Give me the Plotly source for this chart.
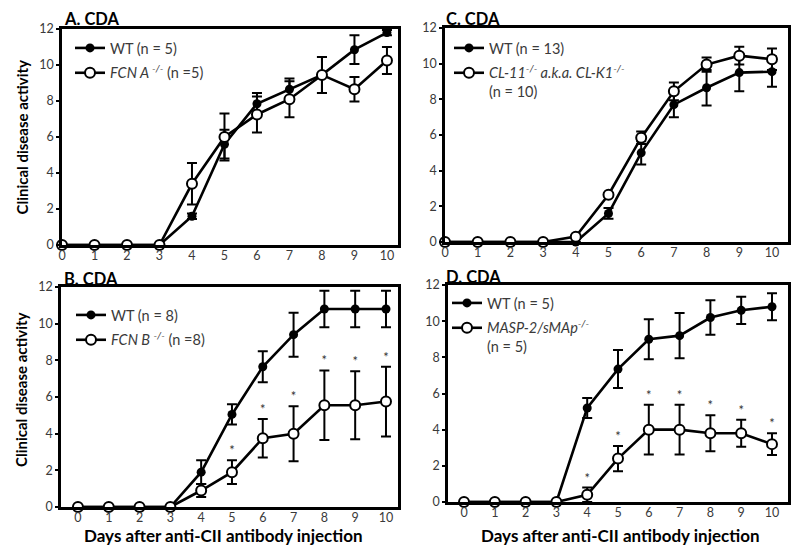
import plotly.graph_objects as go

days = list(range(11))

# Panel A: FCN A
a_wt = [0, 0, 0, 0, 1.6, 5.6, 7.85, 8.65, 9.45, 10.85, 11.8]
a_wt_err = [0, 0, 0, 0, 0.15, 0.8, 0.6, 0.6, 1.0, 0.8, 0.15]
a_ko = [0, 0, 0, 0, 3.4, 6.0, 7.25, 8.1, 9.45, 8.65, 10.25]
a_ko_err = [0, 0, 0, 0, 1.15, 1.3, 1.0, 1.0, 1.0, 0.68, 0.75]

# Panel B: FCN B
b_wt = [0, 0, 0, 0, 1.9, 5.05, 7.65, 9.4, 10.8, 10.8, 10.8]
b_wt_err = [0, 0, 0, 0, 0.65, 0.55, 0.85, 1.2, 1.0, 1.0, 1.0]
b_ko = [0, 0, 0, 0, 0.9, 1.9, 3.75, 4.0, 5.55, 5.55, 5.75]
b_ko_err = [0, 0, 0, 0, 0.35, 0.65, 1.05, 1.5, 1.9, 1.85, 1.9]
b_sig = [False, False, False, False, False, True, True, True, True, True, True]

# Panel C: CL-11
c_wt = [0, 0, 0, 0, 0, 1.6, 5.0, 7.7, 8.65, 9.5, 9.55]
c_wt_err = [0, 0, 0, 0, 0, 0.3, 0.65, 0.7, 1.0, 1.05, 0.85]
c_ko = [0, 0, 0, 0, 0.3, 2.65, 5.85, 8.45, 9.95, 10.45, 10.25]
c_ko_err = [0, 0, 0, 0, 0.05, 0.1, 0.35, 0.5, 0.4, 0.5, 0.6]

# Panel D: MASP-2/sMAp
d_wt = [0, 0, 0, 0, 5.2, 7.35, 9.0, 9.2, 10.2, 10.6, 10.8]
d_wt_err = [0, 0, 0, 0, 0.55, 1.05, 1.1, 1.25, 0.95, 0.75, 0.75]
d_ko = [0, 0, 0, 0, 0.4, 2.4, 4.0, 4.0, 3.8, 3.8, 3.2]
d_ko_err = [0, 0, 0, 0, 0.4, 0.7, 1.38, 1.38, 1.0, 0.75, 0.6]
d_sig = [False, False, False, False, True, True, True, True, True, True, True]

y_ticks = [0, 2, 4, 6, 8, 10, 12]

FONT = "Lato"
TXT = "#3a3a3a"

panels = [
    ("A", "x", "y", "legend", a_wt, a_wt_err, a_ko, a_ko_err,
     "WT (n = 5)", "<i>FCN A <sup>-/-</sup></i> (n =5)", None),
    ("C", "x2", "y2", "legend2", c_wt, c_wt_err, c_ko, c_ko_err,
     "WT (n = 13)", "<i>CL-11<sup>-/-</sup> a.k.a. CL-K1<sup>-/-</sup></i><br>(n = 10)", None),
    ("B", "x3", "y3", "legend3", b_wt, b_wt_err, b_ko, b_ko_err,
     "WT (n = 8)", "<i>FCN B <sup>-/-</sup></i> (n =8)", b_sig),
    ("D", "x4", "y4", "legend4", d_wt, d_wt_err, d_ko, d_ko_err,
     "WT (n = 5)", "<i>MASP-2/sMAp<sup>-/-</sup></i><br>(n = 5)", d_sig),
]

fig = go.Figure()
err_style = dict(type="data", visible=True, color="black", thickness=2, width=5)

for key, xa, ya, lg, wt, wte, ko, koe, wn, kn, sig in panels:
    fig.add_trace(go.Scatter(
        x=days, y=wt, name=wn, xaxis=xa, yaxis=ya, legend=lg, legendgroup=key + "wt",
        mode="lines+markers", cliponaxis=False,
        line=dict(color="black", width=2.6),
        marker=dict(symbol="circle", size=9, color="black"),
        error_y=dict(array=wte, **err_style),
    ))
    fig.add_trace(go.Scatter(
        x=days, y=ko, name=kn, xaxis=xa, yaxis=ya, legend=lg, legendgroup=key + "ko",
        mode="lines+markers", cliponaxis=False,
        line=dict(color="black", width=2.6),
        marker=dict(symbol="circle", size=10, color="white",
                    line=dict(color="black", width=2)),
        error_y=dict(array=koe, **err_style),
    ))
    if sig is not None:
        sx = [d for d, s in zip(days, sig) if s]
        sy = [ko[d] + koe[d] + 0.45 for d, s in zip(days, sig) if s]
        fig.add_trace(go.Scatter(
            x=sx, y=sy, xaxis=xa, yaxis=ya, mode="text", text=["*"] * len(sx),
            textposition="middle center", showlegend=False, cliponaxis=False,
            textfont=dict(family=FONT, size=13, color="#333"),
        ))

# The page body has an 8px margin, so the figure is drawn 8px in from the
# window's top-left corner; positions below are given in window pixels.
OFF = 8
W, H = 800 - OFF, 551 - OFF

def px(x):
    return (x - OFF) / W

def py(y):
    return 1 - (y - OFF) / H

def dom_x(a, b):
    return [px(a), px(b)]

def dom_y(top, bottom):
    return [py(bottom), py(top)]

axis_common = dict(showline=True, linecolor="black", linewidth=2.6, mirror=True,
                   showgrid=False, zeroline=False, automargin=False,
                   tickfont=dict(family=FONT, size=12.5, color=TXT))
ycommon = dict(range=[0, 12], tickvals=y_ticks, ticks="outside", ticklen=3, tickwidth=2,
               tickcolor="black", **axis_common)
xcommon = dict(tickvals=days, ticks="", ticklabelstandoff=-3, **axis_common)

layout_axes = {
    "xaxis": dict(domain=dom_x(62, 398), range=[0, 10.34], anchor="y", **xcommon),
    "yaxis": dict(domain=dom_y(29, 245), anchor="x", **ycommon),
    "xaxis2": dict(domain=dom_x(445, 788), range=[0, 10.49], anchor="y2", **xcommon),
    "yaxis2": dict(domain=dom_y(28, 242), anchor="x2", **ycommon),
    "xaxis3": dict(domain=dom_x(61, 398), range=[-0.55, 10.39], anchor="y3", **xcommon),
    "yaxis3": dict(domain=dom_y(287, 507), anchor="x3", **ycommon),
    "xaxis4": dict(domain=dom_x(448, 788), range=[-0.52, 10.52], anchor="y4", **xcommon),
    "yaxis4": dict(domain=dom_y(285, 502), anchor="x4", **ycommon),
}

legend_common = dict(bgcolor="rgba(0,0,0,0)", borderwidth=0, xanchor="left", yanchor="top",
                     valign="top", font=dict(family=FONT, size=14.5, color=TXT),
                     itemclick=False, itemwidth=30, tracegroupgap=3)

fig.update_layout(
    width=W, height=H,
    margin=dict(l=0, r=0, t=0, b=0, pad=0, autoexpand=False),
    paper_bgcolor="white", plot_bgcolor="white",
    font=dict(family=FONT, color=TXT),
    legend=dict(x=px(70), y=py(32), **legend_common),
    legend2=dict(x=px(449), y=py(32), **legend_common),
    legend3=dict(x=px(71), y=py(299), **legend_common),
    legend4=dict(x=px(447), y=py(287), **legend_common),
    **layout_axes,
)

annots = [
    dict(text="<b>A. CDA</b>", x=px(62), y=py(18.5)),
    dict(text="<b>C. CDA</b>", x=px(444), y=py(18.5)),
    dict(text="<b>B. CDA</b>", x=px(62), y=py(279)),
    dict(text="<b>D. CDA</b>", x=px(444), y=py(277)),
]
for a in annots:
    fig.add_annotation(xref="paper", yref="paper", xanchor="left", yanchor="middle",
                       showarrow=False, font=dict(family=FONT, size=16.5, color="black"), **a)

for cy in [(29 + 246) / 2, 390]:
    fig.add_annotation(xref="paper", yref="paper", x=px(21), y=py(cy),
                       text="<b>Clinical disease activity</b>", textangle=-90,
                       showarrow=False, xanchor="center", yanchor="middle",
                       font=dict(family=FONT, size=15, color="black"))

for cx in [223, 620]:
    fig.add_annotation(xref="paper", yref="paper", x=px(cx), y=py(535),
                       text="<b>Days after anti-CII antibody injection</b>",
                       showarrow=False, xanchor="center", yanchor="middle",
                       font=dict(family=FONT, size=17, color="black"))

fig.write_html("out.html")
